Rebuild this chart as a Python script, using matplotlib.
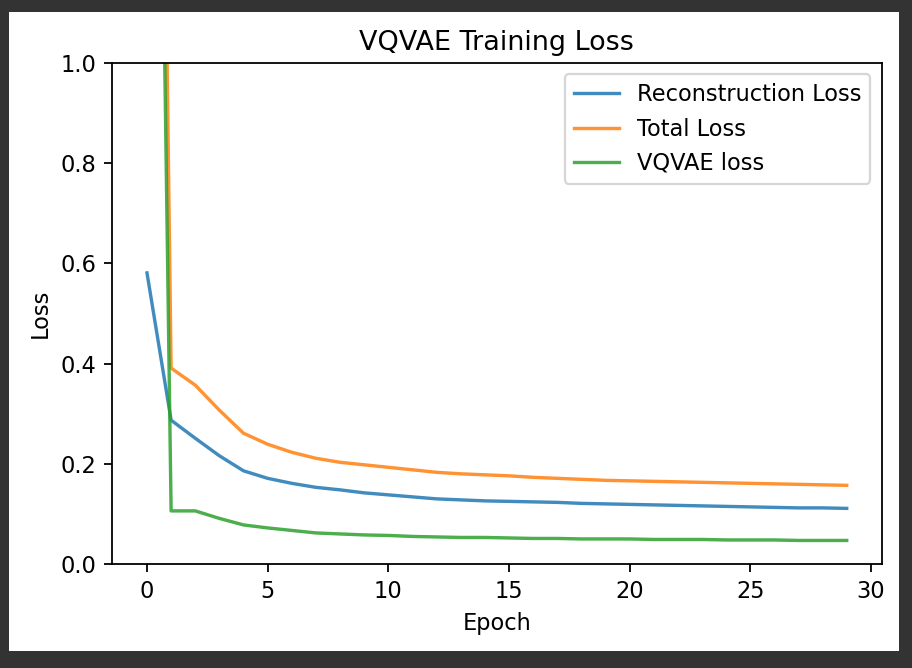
import matplotlib
matplotlib.use("Agg")
import matplotlib.pyplot as plt
from matplotlib.patches import Rectangle

# values
epochs = list(range(30))
recon_loss = [0.581, 0.287, 0.251, 0.216, 0.186, 0.171, 0.161, 0.153, 0.148, 0.142,
              0.138, 0.134, 0.130, 0.128, 0.126, 0.125, 0.124, 0.123, 0.121, 0.120,
              0.119, 0.118, 0.117, 0.116, 0.115, 0.114, 0.113, 0.112, 0.112, 0.111]
total_loss = [4.08, 0.391, 0.357, 0.307, 0.261, 0.239, 0.223, 0.211, 0.203, 0.198,
              0.193, 0.188, 0.183, 0.180, 0.178, 0.176, 0.173, 0.171, 0.169, 0.167,
              0.166, 0.165, 0.164, 0.163, 0.162, 0.161, 0.160, 0.159, 0.158, 0.157]
vqvae_loss = [3.5, 0.106, 0.106, 0.091, 0.078, 0.072, 0.067, 0.062, 0.060, 0.058,
              0.057, 0.055, 0.054, 0.053, 0.053, 0.052, 0.051, 0.051, 0.050, 0.050,
              0.050, 0.049, 0.049, 0.049, 0.048, 0.048, 0.048, 0.047, 0.047, 0.047]
series_names = ["Reconstruction Loss", "Total Loss", "VQVAE loss"]

W, H = 912, 668
dpi = 162
fig = plt.figure(figsize=(W / dpi, H / dpi), dpi=dpi, facecolor="#333333")

# white notebook cell area inside dark frame
fig.add_artist(Rectangle((9 / W, (H - 651) / H), 890 / W, 639 / H,
                         transform=fig.transFigure, facecolor="white",
                         edgecolor="none", zorder=0))

ax = fig.add_axes([112 / W, (H - 564) / H, 769.7 / W, 501 / H])
# screenshot is a bit washed out, so soften the lines slightly
ax.plot(epochs, recon_loss, label=series_names[0], alpha=0.85)
ax.plot(epochs, total_loss, label=series_names[1], alpha=0.85)
ax.plot(epochs, vqvae_loss, label=series_names[2], alpha=0.85)
ax.set_ylim(0, 1)
ax.set_title("VQVAE Training Loss")
ax.set_xlabel("Epoch")
ax.set_ylabel("Loss")
ax.legend(loc="upper right")

fig.savefig("out.png", dpi=dpi, facecolor=fig.get_facecolor())
